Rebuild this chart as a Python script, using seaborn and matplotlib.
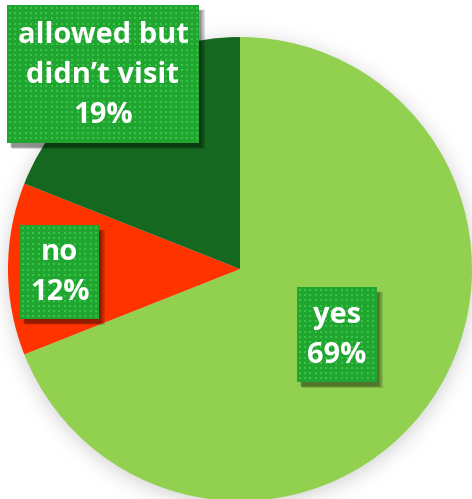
import numpy as np
import matplotlib
matplotlib.use("Agg")
import matplotlib.pyplot as plt
from matplotlib.patches import Rectangle
import seaborn as sns

# Survey answers and their shares (percent)
categories = ["yes", "no", "allowed but\ndidn\u2019t visit"]
shares = [69, 12, 19]
slice_colors = ["#92D050", "#FF3300", "#156820"]

sns.set_style("white")
plt.rcParams["font.family"] = ["Open Sans", "DejaVu Sans"]

W, H = 472, 499
fig = plt.figure(figsize=(W / 100, H / 100), dpi=100)
ax = fig.add_axes([0, 0, 1, 1])

cx, cy, r = 240, H - 269, 232

# soft shadow under the pie
yy, xx = np.mgrid[0:H, 0:W]
d = np.hypot(xx - cx, (H - yy) - (cy - 3))
alpha = 0.16 / (1 + np.exp((d - r - 2) / 5.5))
shadow = np.zeros((H, W, 4))
shadow[..., 3] = alpha
ax.imshow(shadow, extent=(0, W, 0, H), zorder=0, interpolation="bilinear")

ax.pie(shares, colors=sns.color_palette(slice_colors), startangle=90,
       counterclock=False, radius=r, center=(cx, cy),
       wedgeprops=dict(linewidth=0, zorder=1))

# label boxes: (x0, y0 top, x1, y1 bottom) in pixel space
boxes = [(297, 287, 377, 382), (20, 225, 99, 319), (7, 5, 199, 143)]
box_color = "#1FA530"
dot_color = "#38C449"

for (x0, y0, x1, y1), name, val in zip(boxes, categories, shares):
    bw, bh = x1 - x0, y1 - y0
    # drop shadow of the box
    for k, a in zip(range(6, 0, -1), [0.06, 0.07, 0.08, 0.09, 0.1, 0.12]):
        ax.add_patch(Rectangle((x0 + 3 + k * 0.3, H - y1 - 4 - k * 0.3), bw + k * 0.6 - 2,
                               bh + k * 0.6 - 2, facecolor="black", alpha=a,
                               linewidth=0, zorder=2))
    ax.add_patch(Rectangle((x0, H - y1), bw, bh, facecolor=box_color,
                           linewidth=0, zorder=3))
    gx = np.arange(x0 + 3, x1 - 1, 5.2)
    gy = np.arange(y0 + 3, y1 - 1, 5.2)
    GX, GY = np.meshgrid(gx, gy)
    ax.scatter(GX.ravel(), H - GY.ravel(), s=2.0, marker="s", color=dot_color,
               linewidths=0, zorder=4)
    ax.text((x0 + x1) / 2, H - (y0 + y1) / 2 - 1, f"{name}\n{val}%",
            ha="center", va="center", color="white", fontsize=21,
            fontweight="bold", linespacing=1.5, zorder=5)

ax.set_xlim(0, W)
ax.set_ylim(0, H)
ax.set_aspect("equal")
ax.set_axis_off()
fig.savefig("out.png", dpi=100, facecolor="white")
